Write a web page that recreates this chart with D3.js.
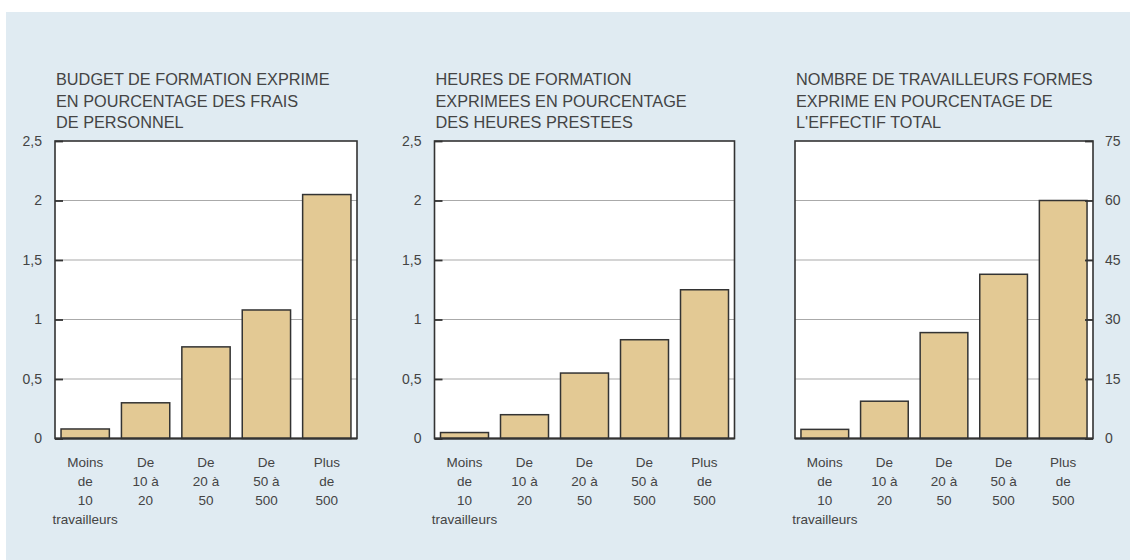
<!DOCTYPE html>
<html>
<head>
<meta charset="utf-8">
<script src="https://cdn.jsdelivr.net/npm/d3@7"></script>
<style>
  html, body { margin: 0; padding: 0; background: #ffffff; }
  svg { display: block; font-family: "Liberation Sans", Arial, Helvetica, sans-serif; }
</style>
</head>
<body>
<svg id="chart" width="1130" height="560"></svg>
<script>
// Company size classes (x axis), one label line per array entry
const categories = [
  ["Moins", "de", "10", "travailleurs"],
  ["De", "10 à", "20"],
  ["De", "20 à", "50"],
  ["De", "50 à", "500"],
  ["Plus", "de", "500"]
];

// Panel titles
const titleBudget = ["BUDGET DE FORMATION EXPRIME", "EN POURCENTAGE DES FRAIS", "DE PERSONNEL"];
const titleHeures = ["HEURES DE FORMATION", "EXPRIMEES EN POURCENTAGE", "DES HEURES PRESTEES"];
const titleTravailleurs = ["NOMBRE DE TRAVAILLEURS FORMES", "EXPRIME EN POURCENTAGE DE", "L'EFFECTIF TOTAL"];

// Series values
const budgetValues = [0.08, 0.30, 0.77, 1.08, 2.05];
const heuresValues = [0.05, 0.20, 0.55, 0.83, 1.25];
const travailleursValues = [2.3, 9.4, 26.7, 41.4, 60];

// Axis ticks and labels
const ticksPct = [0, 0.5, 1, 1.5, 2, 2.5];
const tickLabelsPct = ["0", "0,5", "1", "1,5", "2", "2,5"];
const ticksWorkers = [0, 15, 30, 45, 60, 75];
const tickLabelsWorkers = ["0", "15", "30", "45", "60", "75"];

const svg = d3.select("#chart");
const TEXT = "#444444";
const FRAME = "#333333";

// light blue backdrop
svg.append("rect").attr("x", 6).attr("y", 12).attr("width", 1124).attr("height", 548)
  .attr("fill", "#e0ebf2");

const plotTop = 141, plotBottom = 438.5;

function panel(opts) {
  const g = svg.append("g");
  const x0 = opts.left, x1 = opts.left + opts.width;

  const x = d3.scaleBand().domain(d3.range(categories.length))
    .range([x0, x1]).paddingInner(0.2).paddingOuter(0.1);
  const y = d3.scaleLinear().domain(opts.domain).range([plotBottom, plotTop]);

  // plot area
  g.append("rect").attr("x", x0).attr("y", plotTop)
    .attr("width", opts.width).attr("height", plotBottom - plotTop).attr("fill", "#ffffff");

  // gridlines
  g.append("g").selectAll("line").data(opts.ticks.slice(1, -1)).join("line")
    .attr("x1", x0).attr("x2", x1)
    .attr("y1", d => y(d)).attr("y2", d => y(d))
    .attr("stroke", "#aaaaaa").attr("stroke-width", 1.2);

  // bars
  g.append("g").selectAll("rect").data(opts.values).join("rect")
    .attr("x", (d, i) => x(i))
    .attr("y", d => y(d))
    .attr("width", x.bandwidth())
    .attr("height", d => y(0) - y(d))
    .attr("fill", "#e3c994")
    .attr("stroke", FRAME).attr("stroke-width", 1.5);

  // value axis: inward ticks on the frame, labels outside
  const axisX = opts.side === "left" ? x0 : x1;
  const axis = (opts.side === "left" ? d3.axisLeft(y) : d3.axisRight(y))
    .tickValues(opts.ticks)
    .tickFormat((d, i) => opts.tickLabels[i])
    .tickSizeInner(-8).tickSizeOuter(0).tickPadding(opts.side === "left" ? 13 : 12);
  const ag = g.append("g").attr("transform", `translate(${axisX},0)`).call(axis);
  ag.select(".domain").remove();
  ag.selectAll(".tick line").attr("stroke", FRAME).attr("stroke-width", 1.8);
  ag.selectAll(".tick text").attr("fill", TEXT).attr("font-size", 14)
    .attr("font-family", "Liberation Sans, Arial, sans-serif");

  // frame
  g.append("rect").attr("x", x0).attr("y", plotTop)
    .attr("width", opts.width).attr("height", plotBottom - plotTop)
    .attr("fill", "none").attr("stroke", FRAME).attr("stroke-width", 1.6);
  g.append("line").attr("x1", x0).attr("x2", x1).attr("y1", plotBottom).attr("y2", plotBottom)
    .attr("stroke", FRAME).attr("stroke-width", 2);

  // title
  const t = g.append("text").attr("fill", TEXT).attr("font-size", 16.3);
  opts.title.forEach((line, i) => {
    t.append("tspan").attr("x", x0 + 1).attr("y", 85 + i * 21.7).text(line);
  });

  // category labels
  const cl = g.append("g").selectAll("text").data(categories).join("text")
    .attr("fill", TEXT).attr("font-size", 13.5).attr("text-anchor", "middle");
  cl.each(function(lines, i) {
    const cx = x(i) + x.bandwidth() / 2;
    d3.select(this).selectAll("tspan").data(lines).join("tspan")
      .attr("x", cx).attr("y", (d, j) => 467 + j * 19).text(d => d);
  });
}

panel({ left: 55, width: 302, domain: [0, 2.5], values: budgetValues,
  ticks: ticksPct, tickLabels: tickLabelsPct, side: "left", title: titleBudget });
panel({ left: 434.5, width: 300, domain: [0, 2.5], values: heuresValues,
  ticks: ticksPct, tickLabels: tickLabelsPct, side: "left", title: titleHeures });
panel({ left: 795, width: 298, domain: [0, 75], values: travailleursValues,
  ticks: ticksWorkers, tickLabels: tickLabelsWorkers, side: "right", title: titleTravailleurs });
</script>
</body>
</html>
